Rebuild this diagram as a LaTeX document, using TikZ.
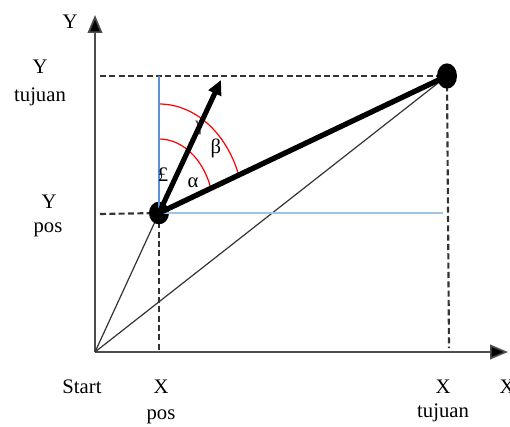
\documentclass[tikz,border=0pt]{standalone}
\usepackage{fontspec}
\setmainfont{Liberation Serif}
\usetikzlibrary{arrows.meta,shapes.geometric}
\definecolor{axisgray}{HTML}{4D4D4D}
\definecolor{dashgray}{HTML}{333333}
\definecolor{blueline}{HTML}{5B8FD9}
\definecolor{bluelight}{HTML}{9DC3E6}
\begin{document}
\begin{tikzpicture}[
  x=0.75pt, y=0.75pt,
  every node/.style={font=\fontsize{15.5}{18}\selectfont, inner sep=0pt},
  axis/.style={draw=axisgray, line width=1.3pt, -{Triangle[length=13.5pt,width=11pt,fill=black]}},
  guide/.style={draw=dashgray, line width=1.6pt, dash pattern=on 4.5pt off 2.5pt},
  ray/.style={draw=black!80, line width=0.9pt},
  dot/.style={ellipse, fill=black, minimum width=15pt, minimum height=18pt},
  arcmark/.style={draw=red, line width=0.9pt}
]
\useasboundingbox (0,0) rectangle (510,426);
\coordinate (start) at (95,74);
\coordinate (pos) at (159,213);
\coordinate (tgt) at (447,350);
\coordinate (ytop) at (95,411);
\coordinate (xend) at (508,74);
\coordinate (head) at (221,346);

% axes
\draw[axis] (start) -- (ytop);
\draw[axis] (start) -- (xend);

% guides
\draw[guide] (100,350) -- (tgt);
\draw[guide] (100,212) -- (pos);
\draw[guide] (pos) -- (159,76);
\draw[guide] (tgt) -- (449,78);

% rays from start
\draw[ray] (start) -- (pos);
\draw[ray] (start) -- (tgt);

% angle marks
\draw[arcmark] (pos) ++(0,109) arc[start angle=90, end angle=20, x radius=85, y radius=109];
\draw[arcmark] (pos) ++(0,74) arc[start angle=90, end angle=20, x radius=55, y radius=74];
\node[text=black!70] (gamma) at (200,298) {γ};

\node[dot, minimum width=15pt, minimum height=17pt] (posdot) at (pos) {};
\node[dot, minimum width=15pt, minimum height=19pt] (tgtdot) at (tgt) {};

\draw[draw=blueline, line width=1.3pt] (pos) -- (159,350);
\draw[draw=bluelight, line width=1.6pt] (pos) -- (443,213);

\draw[line width=4pt] (pos) -- (tgt);
\draw[line width=3.8pt, -{Triangle[length=11pt,width=10pt]}] (pos) -- (head);

\node (lpound) at (163,251) {£};
\node (lalpha) at (193,243) {α};
\node (lbeta) at (216,278) {β};

% labels
\node (yaxis) at (70,404) {Y};
\node (ytuj) at (40,359) {Y};
\node (ytujb) at (40,329) {tujuan};
\node (ypos) at (49,224) {Y};
\node (yposb) at (48,196) {pos};
\node (lstart) at (82,39) {Start};
\node (xpos) at (161,39) {X};
\node (xposb) at (161,9) {pos};
\node (xtuj) at (443,39) {X};
\node (xtujb) at (443,13) {tujuan};
\node (xaxis) at (507,39) {X};
\end{tikzpicture}
\end{document}
